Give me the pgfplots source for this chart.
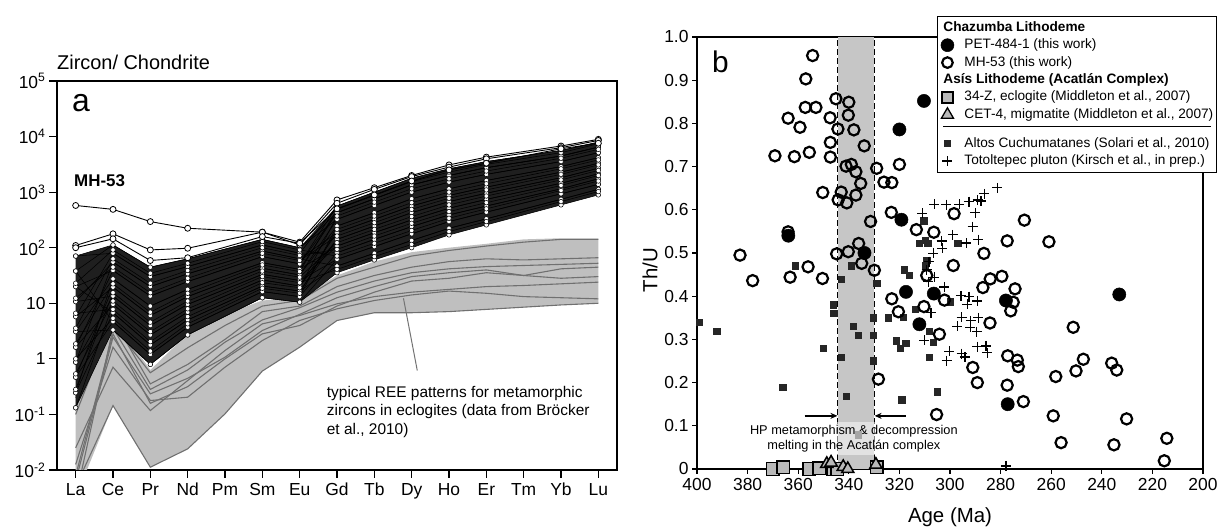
\documentclass[border=0pt]{standalone}
\usepackage{pgfplots}
\pgfplotsset{compat=1.18}
\usepackage{pgfplotstable}
\usepackage{fontspec}
\setmainfont{Liberation Sans}
\usetikzlibrary{arrows.meta}
\newcommand{\lf}{\fontsize{13.7}{16}\selectfont}

% MH-53 zircon REE patterns (log10 of chondrite-normalised values)
\pgfplotstableread{
x l1 l2 l3 l4 l5 l6 l7 l8 l9 l10 l11 l12 l13 l14 l15 l16 l17 l18 l19 l20 l21 l22 l23 l24 l25 l26 l27 l28 l29 l30 l31 l32 l33
0 -0.88 -0.61 -0.33 -0.06 0.21 0.49 0.76 1.03 1.30 1.58 1.85 -0.88 -0.33 0.21 0.76 1.30 -0.61 -0.06 0.49 1.03 1.58 1.85 2.76 2.04 2.00 0.00 0.82 -0.55 1.36 0.27 -0.27 1.09 0.55
1 0.52 0.83 0.67 1.13 0.98 1.44 1.29 1.74 1.59 2.05 1.90 0.98 1.29 1.59 1.90 0.83 1.44 1.74 0.52 1.13 0.67 2.05 2.69 2.25 2.16 0.73 0.89 1.19 1.96 1.35 1.04 1.65 1.80
2 -0.10 0.25 0.08 0.60 0.43 0.95 0.78 1.30 1.13 1.65 1.48 0.43 0.78 1.13 1.48 0.25 0.95 1.30 -0.10 0.60 0.08 1.65 2.47 1.96 1.77 0.14 0.31 0.66 1.54 0.84 0.49 1.19 1.36
3 0.43 0.70 0.57 0.98 0.84 1.25 1.12 1.53 1.39 1.80 1.66 0.84 1.12 1.39 1.66 0.70 1.25 1.53 0.43 0.98 0.57 1.80 2.35 1.99 1.82 0.63 0.76 1.04 1.72 1.18 0.90 1.45 1.59
5 1.10 1.31 1.21 1.52 1.42 1.73 1.63 1.94 1.84 2.15 2.05 1.42 1.63 1.84 2.05 1.31 1.73 1.94 1.10 1.52 1.21 2.15 2.28 2.28 2.20 1.27 1.37 1.58 2.11 1.69 1.48 1.90 2.00
6 1.02 1.22 1.12 1.41 1.31 1.61 1.51 1.80 1.71 2.00 1.90 1.31 1.51 1.71 1.90 1.22 1.61 1.80 1.02 1.41 1.12 2.00 2.10 2.05 2.08 1.18 1.28 1.47 1.96 1.57 1.37 1.77 1.86
7 1.55 1.67 1.91 1.79 2.15 2.03 2.39 2.27 2.63 2.51 2.75 2.27 2.51 2.75 1.91 2.15 2.63 1.67 1.79 2.03 2.39 2.63 2.86 2.80 2.70 2.33 2.57 2.09 1.85 2.69 1.61 2.21 1.97
8 1.78 1.90 2.15 2.02 2.39 2.27 2.63 2.51 2.88 2.76 3.00 2.51 2.76 3.00 2.15 2.39 2.88 1.90 2.02 2.27 2.63 2.88 3.08 3.05 2.95 2.57 2.82 2.33 2.08 2.94 1.84 2.45 2.21
9 2.00 2.13 2.38 2.25 2.63 2.50 2.88 2.75 3.13 3.00 3.25 2.75 3.00 3.25 2.38 2.63 3.13 2.13 2.25 2.50 2.88 3.13 3.30 3.28 3.20 2.81 3.06 2.56 2.31 3.19 2.06 2.69 2.44
10 2.23 2.35 2.59 2.47 2.83 2.71 3.06 2.94 3.30 3.18 3.42 2.94 3.18 3.42 2.59 2.83 3.30 2.35 2.47 2.71 3.06 3.30 3.49 3.45 3.40 3.00 3.24 2.77 2.53 3.36 2.29 2.89 2.65
11 2.41 2.52 2.75 2.64 2.98 2.87 3.21 3.09 3.44 3.32 3.55 3.09 3.32 3.55 2.75 2.98 3.44 2.52 2.64 2.87 3.21 3.44 3.63 3.60 3.52 3.15 3.38 2.93 2.70 3.50 2.47 3.04 2.81
13 2.77 2.87 3.06 2.97 3.26 3.16 3.46 3.36 3.65 3.55 3.75 3.36 3.55 3.75 3.06 3.26 3.65 2.87 2.97 3.16 3.46 3.65 3.83 3.80 3.78 3.42 3.61 3.22 3.03 3.71 2.83 3.32 3.12
14 2.95 3.05 3.24 3.14 3.43 3.33 3.62 3.52 3.81 3.71 3.90 3.52 3.71 3.90 3.24 3.43 3.81 3.05 3.14 3.33 3.62 3.81 3.95 3.93 3.88 3.58 3.77 3.39 3.20 3.87 3.01 3.49 3.30
}\mhtab

% eclogite zircon patterns (log10)
\pgfplotstableread{
x g1 g2 g3 g4 g5 g6 g7 g8
0 -2.3 -1.6 -1.9 -2.2 -1.0 -2.5 -0.7 -2.1
1 -0.84 -0.15 0.21 0.39 0.72 0.55 0.60 0.45
2 -1.95 -0.93 -0.75 -0.63 -0.45 -0.55 -0.25 -0.80
3 -1.62 -0.39 -0.69 -0.35 -0.10 -0.20 0.20 -0.50
4 -0.99 0.15 -0.15 0.03 0.35 0.30 0.60 0.00
5 -0.22 0.63 0.33 0.51 0.85 0.70 0.95 0.45
6 0.21 0.78 0.69 0.80 0.95 0.92 1.05 0.60
7 0.69 0.99 0.90 1.10 1.30 1.20 1.45 0.95
8 0.83 1.12 1.05 1.30 1.50 1.40 1.65 1.20
9 0.83 1.20 1.15 1.48 1.65 1.55 1.85 1.40
10 0.85 1.25 1.22 1.55 1.75 1.62 1.95 1.45
11 0.89 1.30 1.18 1.60 1.80 1.66 2.03 1.55
12 0.93 1.32 1.12 1.50 1.78 1.68 2.10 1.50
13 0.97 1.35 1.10 1.45 1.80 1.70 2.15 1.62
14 1.00 1.38 1.08 1.48 1.82 1.72 2.15 1.65
}\ecltab

\begin{document}
\begin{tikzpicture}[x=1bp,y=1bp]
\useasboundingbox (0,0) rectangle (1223,527);

% ---------------- panel a ----------------
\begin{axis}[
  at={(57bp,57bp)}, anchor=south west, scale only axis,
  width=560bp, height=389bp,
  xmin=-0.5, xmax=14.5, ymin=-2, ymax=5,
  xtick={0,...,14},
  xticklabels={La,Ce,Pr,Nd,Pm,Sm,Eu,Gd,Tb,Dy,Ho,Er,Tm,Yb,Lu},
  ytick={-2,-1,0,1,2,3,4,5},
  yticklabels={10\textsuperscript{-2},10\textsuperscript{-1},1,10,10\textsuperscript{2},10\textsuperscript{3},10\textsuperscript{4},10\textsuperscript{5}},
  tick align=outside, tick pos=left,
  major tick length=8bp,
  tick style={line width=1.2bp, black},
  axis line style={line width=1.3bp},
  ticklabel style={font=\fontsize{17.5}{18}\selectfont},
  xticklabel style={text height=13bp, text depth=3bp, anchor=north, yshift=-1bp},
]
\addplot[fill=gray!50, draw=none, forget plot] coordinates {
 (0,-0.5)(1,0.75)(2,-0.2)(3,0.45)(4,0.8)(5,1.05)(6,1.1)(7,1.5)(8,1.75)(9,1.92)(10,2.0)(11,2.07)(12,2.15)(13,2.17)(14,2.17)
 (14,1.0)(13,0.97)(12,0.93)(11,0.89)(10,0.85)(9,0.83)(8,0.83)(7,0.69)(6,0.21)(5,-0.22)(4,-0.99)(3,-1.62)(2,-1.95)(1,-0.84)(0,-2.5)} -- cycle;
\pgfplotsinvokeforeach{1,...,8}{
  \addplot[black!56, line width=1.1bp, forget plot] table[x=x, y=g#1]{\ecltab};
}
\draw[black!55, line width=1bp] (axis cs:8.78,1.09) -- (axis cs:9.15,-0.21);
\addplot[fill=black!88, draw=none, forget plot] coordinates {
 (0,1.85)(1,2.05)(2,1.65)(3,1.80)(5,2.15)(6,2.00)(7,2.75)(8,3.00)(9,3.25)(10,3.42)(11,3.55)(13,3.75)(14,3.90)
 (14,2.95)(13,2.77)(11,2.41)(10,2.23)(9,2.00)(8,1.78)(7,1.55)(6,1.02)(5,1.10)(3,0.43)(2,-0.10)(1,0.52)(0,-0.88)} -- cycle;
\pgfplotsinvokeforeach{1,...,22,26,27,28,29,30,31,32,33}{
  \addplot[black, line width=0.55bp, mark=*, mark size=2.3bp,
    mark options={fill=white, draw=black, line width=0.5bp}, forget plot] table[x=x, y=l#1]{\mhtab};
}
\pgfplotsinvokeforeach{23,24,25}{
  \addplot[black, line width=0.9bp, mark=*, mark size=3bp,
    mark options={fill=white, draw=black, line width=0.8bp}, forget plot] table[x=x, y=l#1]{\mhtab};
}
\end{axis}

% ---------------- panel b ----------------
\begin{axis}[
  at={(697bp,58bp)}, anchor=south west, scale only axis,
  width=506bp, height=432bp,
  x dir=reverse, xmin=200, xmax=400, ymin=0, ymax=1,
  xtick={200,220,240,260,280,300,320,340,360,380,400},
  xticklabels={200,220,240,260,280,300,320,340,360,380,400},
  ytick={0,0.1,0.2,0.3,0.4,0.5,0.6,0.7,0.8,0.9,1.0},
  yticklabels={0,0.1,0.2,0.3,0.4,0.5,0.6,0.7,0.8,0.9,1.0},
  tick align=outside, tick pos=left,
  major tick length=5bp,
  tick style={line width=1.2bp, black},
  axis line style={line width=1.4bp},
  ticklabel style={font=\fontsize{17.5}{18}\selectfont},
  xticklabel style={text height=13bp, text depth=3bp, anchor=north},
  clip=false,
  legend cell align=left,
  legend style={at={(axis description cs:0.474,1.0486)}, anchor=north west,
    draw=black, line width=1.2bp, fill=white,
    row sep=0pt, column sep=9bp, inner xsep=1.5bp, inner ysep=2.5bp,
    nodes={inner sep=1.5bp, text height=10.8bp, text depth=3.6bp}},
]
\addlegendimage{empty legend}
\addlegendentry{\hspace*{-21bp}\lf\bfseries Chazumba Lithodeme}
\addlegendimage{only marks, mark=*, mark size=6.5bp, mark options={fill=black, draw=black, line width=0.5bp}}
\addlegendentry{\lf PET-484-1 (this work)}
\addlegendimage{only marks, mark=o, mark size=5.3bp, mark options={line width=2.2bp, draw=black}}
\addlegendentry{\lf MH-53 (this work)}
\addlegendimage{empty legend}
\addlegendentry{\hspace*{-21bp}\lf\bfseries Asís Lithodeme (Acatlán Complex)}
\addlegendimage{only marks, mark=square*, mark size=5.5bp, mark options={fill=gray!55, draw=black, line width=1.3bp}}
\addlegendentry{\lf 34-Z, eclogite (Middleton et al., 2007)}
\addlegendimage{only marks, mark=triangle*, mark size=7bp, mark options={fill=gray!55, draw=black, line width=1.3bp}}
\addlegendentry{\lf CET-4, migmatite (Middleton et al., 2007)}
\addlegendimage{empty legend}
\addlegendentry[text height=5bp, text depth=3.5bp]{\hspace*{-21bp}\rule[2.5bp]{268bp}{1bp}}
\addlegendimage{only marks, mark=square*, mark size=3.2bp, mark options={fill=black!85, draw=black!85}}
\addlegendentry{\lf Altos Cuchumatanes (Solari et al., 2010)}
\addlegendimage{only marks, mark=+, mark size=5bp, mark options={line width=1.3bp, draw=black}}
\addlegendentry{\lf Totoltepec pluton (Kirsch et al., in prep.)}

% HP metamorphism band
\addplot[fill=gray!45, draw=none, forget plot] coordinates {(344.3,0)(344.3,1)(330,1)(330,0)} -- cycle;
\addplot[black, line width=1bp, dash pattern=on 6bp off 3bp, forget plot] coordinates {(344.3,0)(344.3,1)};
\addplot[black, line width=1bp, dash pattern=on 6bp off 3bp, forget plot] coordinates {(330,0)(330,1)};

% light grey square behind text
\addplot[only marks, mark=square*, mark size=3.2bp, mark options={fill=gray!70, draw=gray!70}, forget plot]
 coordinates {(336.2,0.079)};

\node[fill=white, fill opacity=0.5, text opacity=1, align=center, inner xsep=2bp, inner ysep=3bp,
  font=\fontsize{12.8}{15.5}\selectfont] at (axis cs:338,0.07)
  {HP metamorphism \& decompression\\melting in the Acatlán complex};
\draw[line width=1.5bp, -{Stealth[length=7bp,width=6bp]}] (axis cs:357.5,0.123) -- (axis cs:344.5,0.123);
\draw[line width=1.5bp, -{Stealth[length=7bp,width=6bp]}] (axis cs:317.5,0.123) -- (axis cs:329.8,0.123);

% Altos Cuchumatanes
\addplot[only marks, mark=square*, mark size=3.2bp, mark options={fill=black!85, draw=black!85}, forget plot] coordinates {
(399.1,0.340)(392.2,0.319)(366.1,0.189)(361.2,0.471)(350.2,0.279)(346.1,0.380)(345.9,0.361)(343.1,0.440)
(342.9,0.259)(339.1,0.471)(338.2,0.331)(336.2,0.310)(341.1,0.169)(330.3,0.350)(330.3,0.310)(330.3,0.251)
(329.0,0.430)(324.4,0.350)(321.3,0.297)(319.1,0.160)(318.6,0.352)(317.5,0.291)(319.6,0.279)(318.2,0.461)
(316.1,0.449)(313.8,0.370)(310.4,0.575)(309.9,0.530)(312.1,0.522)(308.8,0.522)(309.9,0.471)(309.2,0.484)
(308.3,0.319)(306.6,0.294)(308.2,0.259)(305.0,0.179)(297.0,0.522)(300.0,0.387)};

% Totoltepec pluton
\addplot[only marks, mark=+, mark size=5bp, mark options={line width=1.3bp, draw=black}, forget plot] coordinates {
(306.2,0.613)(301.5,0.612)(296.3,0.613)(292.5,0.619)(287.7,0.620)(281.3,0.651)(286.4,0.637)(289.1,0.623)
(290.0,0.593)(291.1,0.561)(288.8,0.531)(311.0,0.592)(298.9,0.542)(303.3,0.528)(303.0,0.511)(293.5,0.523)
(306.6,0.499)(308.3,0.480)(309.2,0.461)(308.6,0.434)(306.2,0.444)(302.2,0.421)(295.7,0.401)(292.5,0.399)
(293.2,0.381)(289.2,0.389)(307.5,0.362)(295.4,0.351)(291.8,0.343)(288.8,0.350)(289.4,0.318)(292.0,0.328)
(297.1,0.330)(310.2,0.298)(289.2,0.283)(285.8,0.285)(285.3,0.269)(300.3,0.272)(301.3,0.251)(295.4,0.267)
(294.1,0.259)(277.9,0.007)};

% MH-53
\addplot[only marks, mark=o, mark size=5.6bp, mark options={line width=2.2bp, draw=black}, forget plot] coordinates {
(354.3,0.957)(357.0,0.903)(357.2,0.837)(353.0,0.837)(364.0,0.812)(359.3,0.791)(345.1,0.857)(340.0,0.849)
(347.4,0.813)(340.2,0.819)(344.3,0.787)(338.0,0.785)(347.3,0.756)(333.9,0.748)(369.2,0.725)(361.5,0.723)
(355.6,0.733)(347.3,0.722)(341.1,0.701)(339.0,0.705)(337.2,0.688)(335.3,0.661)(329.0,0.696)(320.0,0.705)
(326.1,0.664)(323.0,0.663)(350.3,0.640)(343.0,0.641)(344.2,0.623)(340.8,0.616)(337.2,0.634)(323.2,0.594)
(331.4,0.573)(298.4,0.591)(313.3,0.554)(306.4,0.548)(364.0,0.549)(383.0,0.495)(344.8,0.498)(340.2,0.503)
(336.1,0.522)(334.9,0.476)(329.9,0.460)(356.1,0.468)(378.0,0.436)(363.2,0.444)(350.4,0.441)(286.6,0.499)
(298.7,0.471)(309.2,0.448)(284.1,0.440)(279.5,0.446)(287.0,0.420)(274.3,0.417)(302.2,0.391)(323.0,0.394)
(320.4,0.364)(310.3,0.376)(284.2,0.338)(304.2,0.312)(270.6,0.576)(277.4,0.528)(260.9,0.526)(275.0,0.386)
(276.0,0.366)(251.3,0.328)(277.2,0.262)(273.4,0.252)(273.0,0.237)(291.0,0.235)(289.2,0.200)(277.4,0.194)
(271.0,0.156)(258.2,0.214)(250.2,0.227)(247.3,0.254)(236.1,0.245)(234.1,0.229)(259.2,0.123)(256.1,0.061)
(235.2,0.056)(230.2,0.116)(214.3,0.071)(215.3,0.019)(305.3,0.126)(328.3,0.208)};

% PET-484-1
\addplot[only marks, mark=*, mark size=6.6bp, mark options={fill=black, draw=black, line width=0.5bp}, forget plot] coordinates {
(310.3,0.852)(320.0,0.786)(319.2,0.577)(333.8,0.500)(363.9,0.540)(317.4,0.410)(306.4,0.406)(312.1,0.335)
(277.9,0.390)(277.2,0.150)(233.1,0.404)};

% 34-Z eclogite
\addplot[only marks, mark=square*, mark size=6.3bp, mark options={fill=gray!55, draw=black, line width=1.5bp}, forget plot] coordinates {
(370.1,0.0)(365.9,0.004)(355.7,0.0)(351.7,0.002)(346.1,0.0)(344.5,0.0)(329.0,0.004)};

% CET-4 migmatite
\addplot[only marks, mark=triangle*, mark size=7bp, mark options={fill=gray!55, draw=black, line width=1.5bp}, forget plot] coordinates {
(348.7,0.012)(347.0,0.015)(342.2,0.005)(340.4,0.0)(329.3,0.010)};
\end{axis}

% ---------------- texts ----------------
\node[anchor=west, inner sep=0, font=\fontsize{20}{20}\selectfont] at (57,465) {Zircon/ Chondrite};
\node[anchor=base west, inner sep=0, font=\fontsize{32}{32}\selectfont] at (72,415.5) {a};
\node[anchor=base west, inner sep=0, font=\fontsize{17}{17}\selectfont\bfseries] at (74,340.5) {MH-53};
\node[anchor=north west, align=left, inner sep=0, font=\fontsize{15.5}{18.5}\selectfont] at (326.7,141)
  {typical REE patterns for metamorphic\\zircons in eclogites (data from Bröcker\\et al., 2010)};
\node[anchor=base west, inner sep=0, font=\fontsize{30}{30}\selectfont] at (712,454.3) {b};
\node[rotate=90, inner sep=0, font=\fontsize{20.5}{20.5}\selectfont] at (650,257) {Th/U};
\node[anchor=base, inner sep=0, font=\fontsize{20.5}{20.5}\selectfont] at (950,4.5) {Age (Ma)};
\end{tikzpicture}
\end{document}
